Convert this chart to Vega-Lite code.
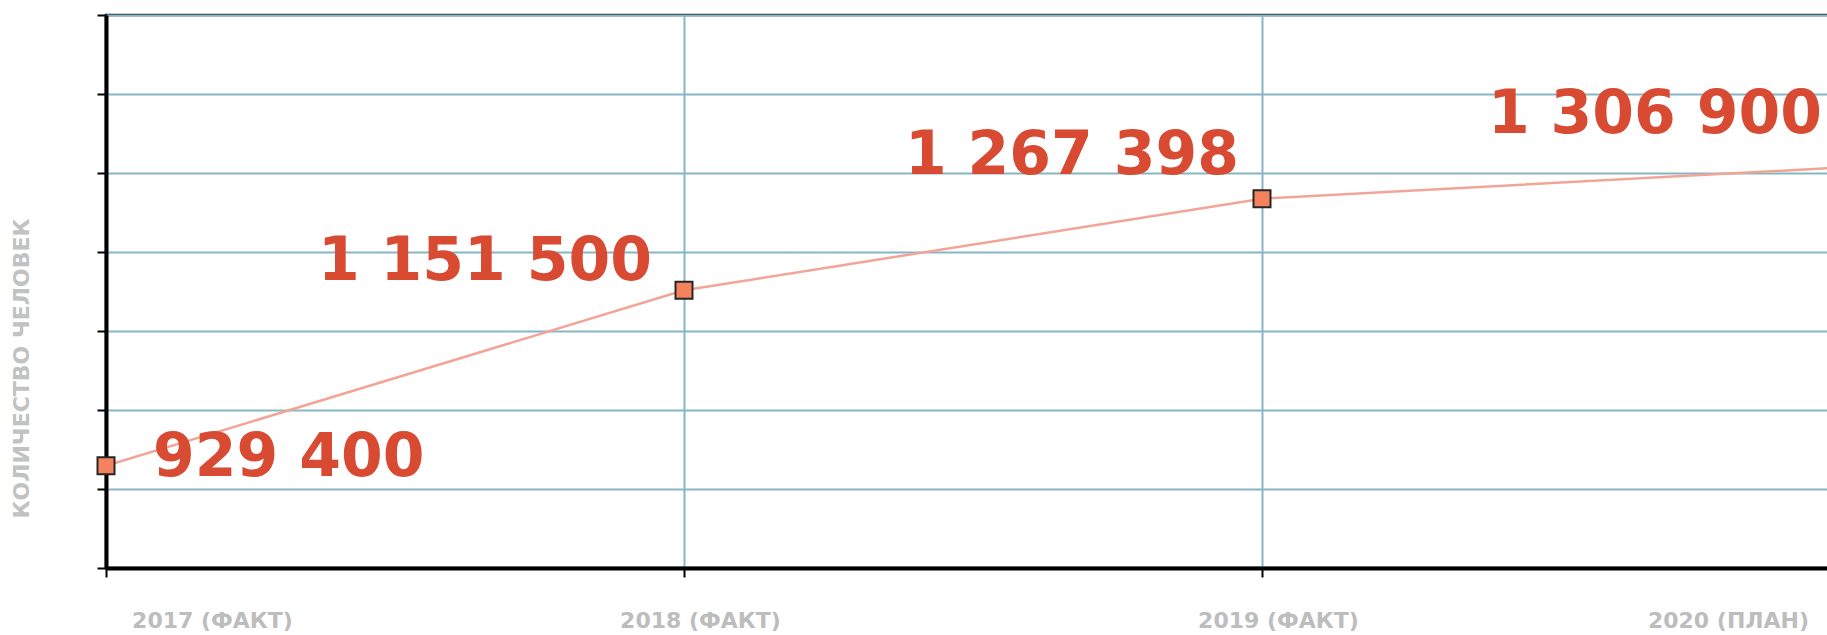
{
  "$schema": "https://vega.github.io/schema/vega-lite/v6.json",
  "autosize": {"type": "none"},
  "width": 1734,
  "height": 553,
  "padding": {"left": 106, "top": 15, "right": 0, "bottom": 67},
  "background": "#ffffff",
  "config": {
    "view": {"stroke": "#111111", "strokeWidth": 2.5},
    "font": "DejaVu Sans"
  },
  "data": {
    "values": [
      {"period": "2017 (ФАКТ)", "people": 929400, "label": "929 400"},
      {"period": "2018 (ФАКТ)", "people": 1151500, "label": "1 151 500"},
      {"period": "2019 (ФАКТ)", "people": 1267398, "label": "1 267 398"},
      {"period": "2020 (ПЛАН)", "people": 1306900, "label": "1 306 900"}
    ]
  },
  "encoding": {
    "x": {
      "field": "period",
      "type": "ordinal",
      "sort": null,
      "scale": {"type": "point", "padding": 0},
      "axis": {
        "title": null,
        "labelAngle": 0,
        "labelFont": "DejaVu Sans",
        "labelFontSize": 22,
        "labelFontWeight": "bold",
        "labelColor": "#bdbdbd",
        "labelBaseline": "top",
        "labelAlign": "center",
        "labelPadding": 33,
        "labelOffset": {
          "condition": [
            {"test": "datum.index == 0", "value": 106},
            {"test": "datum.index == 1", "value": -112}
          ],
          "value": 16
        },
        "labelOverlap": false,
        "labelFlush": false,
        "domainColor": "#000000",
        "domainWidth": 4,
        "tickColor": "#000000",
        "tickWidth": 2,
        "tickSize": 9,
        "grid": true,
        "gridColor": "#86b6c6",
        "gridWidth": 2
      }
    },
    "y": {
      "field": "people",
      "type": "quantitative",
      "scale": {"domain": [800000, 1500000], "zero": false, "nice": false},
      "axis": {
        "title": "КОЛИЧЕСТВО ЧЕЛОВЕК",
        "titleFont": "DejaVu Sans",
        "titleFontSize": 22,
        "titleFontWeight": "bold",
        "titleColor": "#c2c2c2",
        "titleAngle": -90,
        "titleAlign": "center",
        "titleBaseline": "middle",
        "titleX": -85,
        "titleY": 353,
        "labels": false,
        "values": [800000, 900000, 1000000, 1100000, 1200000, 1300000, 1400000, 1500000],
        "domainColor": "#000000",
        "domainWidth": 4,
        "tickColor": "#000000",
        "tickWidth": 2,
        "tickSize": 9,
        "grid": true,
        "gridColor": "#86b6c6",
        "gridWidth": 2
      }
    }
  },
  "layer": [
    {
      "mark": {"type": "line", "color": "#f2a596", "strokeWidth": 2.5}
    },
    {
      "mark": {
        "type": "point",
        "shape": "square",
        "filled": true,
        "fill": "#f5825f",
        "stroke": "#262626",
        "strokeWidth": 2,
        "size": 289,
        "opacity": 1
      }
    },
    {
      "transform": [{"filter": "datum.period == '2017 (ФАКТ)'"}],
      "mark": {
        "type": "text",
        "align": "left",
        "baseline": "alphabetic",
        "dx": 47,
        "dy": 10,
        "font": "DejaVu Sans",
        "fontSize": 60,
        "fontWeight": "bold",
        "color": "#d84a32"
      },
      "encoding": {"text": {"field": "label"}}
    },
    {
      "transform": [{"filter": "datum.period != '2017 (ФАКТ)'"}],
      "mark": {
        "type": "text",
        "align": "right",
        "baseline": "alphabetic",
        "dx": {"expr": "datum.period == '2018 (ФАКТ)' ? -32 : datum.period == '2019 (ФАКТ)' ? -23 : -18"},
        "dy": {"expr": "datum.period == '2018 (ФАКТ)' ? -10 : datum.period == '2019 (ФАКТ)' ? -25 : -35"},
        "font": "DejaVu Sans",
        "fontSize": 60,
        "fontWeight": "bold",
        "color": "#d84a32"
      },
      "encoding": {"text": {"field": "label"}}
    }
  ]
}
